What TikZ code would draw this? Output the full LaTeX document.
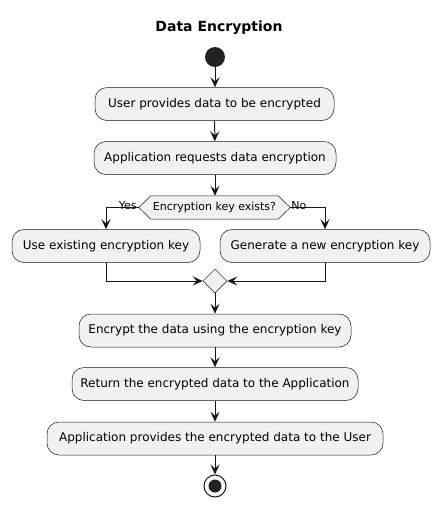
\documentclass[tikz,border=0pt]{standalone}
\usepackage{fontspec}
\setmainfont{DejaVu Sans}
\usetikzlibrary{arrows.meta,shapes.geometric}
\definecolor{boxfill}{HTML}{F1F1F1}
\definecolor{ink}{HTML}{181818}
\definecolor{dot}{HTML}{222222}
\tikzset{
  act/.style={draw=ink, fill=boxfill, line width=0.5pt, rounded corners=12pt,
    minimum height=33pt, inner sep=0pt, font=\fontsize{12}{14}\selectfont, text=black},
  arr/.style={draw=ink, line width=1pt, -{Stealth[length=10pt,width=9pt,inset=4pt]}},
  guard/.style={font=\fontsize{11}{13}\selectfont, text=black, inner sep=0pt},
}
\begin{document}
\begin{tikzpicture}[x=1pt,y=-1pt]
\useasboundingbox (0,0) rectangle (440,507);
\node[font=\bfseries\fontsize{14}{16}\selectfont] (title) at (219,28) {Data Encryption};
\node[circle, fill=dot, minimum size=20pt, inner sep=0pt] (start) at (215,57) {};
\node[act, minimum width=239pt] (a1) at (214.5,104) {User provides data to be encrypted};
\node[act, minimum width=242pt] (a2) at (215,158) {Application requests data encryption};
\node[minimum width=151pt, minimum height=23pt, inner sep=0pt] (dec) at (214.5,207.5) {};
\draw[draw=ink, fill=boxfill, line width=0.5pt]
  (dec.west) -- ([xshift=12pt]dec.north west) -- ([xshift=-12pt]dec.north east)
  -- (dec.east) -- ([xshift=-12pt]dec.south east) -- ([xshift=12pt]dec.south west) -- cycle;
\node[guard] at (dec) {Encryption key exists?};
\node[act, minimum width=188pt] (left) at (106,246) {Use existing encryption key};
\node[act, minimum width=210pt] (right) at (325,246) {Generate a new encryption key};
\node[diamond, draw=ink, fill=boxfill, line width=0.5pt, minimum size=24pt, inner sep=0pt, aspect=1] (merge) at (215,281) {};
\node[act, minimum width=272pt] (a3) at (215,330.5) {Encrypt the data using the encryption key};
\node[act, minimum width=286pt] (a4) at (215,384) {Return the encrypted data to the Application};
\node[act, minimum width=336pt] (a5) at (215,438.5) {Application provides the encrypted data to the User};
\node[circle, draw=ink, fill=white, line width=1pt, minimum size=22pt, inner sep=0pt] (stop) at (215,486) {};
\node[circle, fill=dot, minimum size=13pt, inner sep=0pt] at (stop) {};
\draw[arr] (start) -- (start |- a1.north);
\draw[arr] (a1) -- (a2);
\draw[arr] (a2.south) -- (dec.north -| a2.south);
\draw[arr] (dec.west) -| (left.north);
\draw[arr] (dec.east) -| (right.north);
\node[guard, anchor=south east] at ([xshift=-2pt,yshift=-2pt]dec.west) {Yes};
\node[guard, anchor=south west] at ([xshift=1pt,yshift=-2pt]dec.east) {No};
\draw[arr] (left.south) |- (merge.west);
\draw[arr] (right.south) |- (merge.east);
\draw[arr] (merge.south) -- (a3.north -| merge.south);
\draw[arr] (a3) -- (a4);
\draw[arr] (a4) -- (a5);
\draw[arr] (a5.south) -- (stop);
\end{tikzpicture}
\end{document}
